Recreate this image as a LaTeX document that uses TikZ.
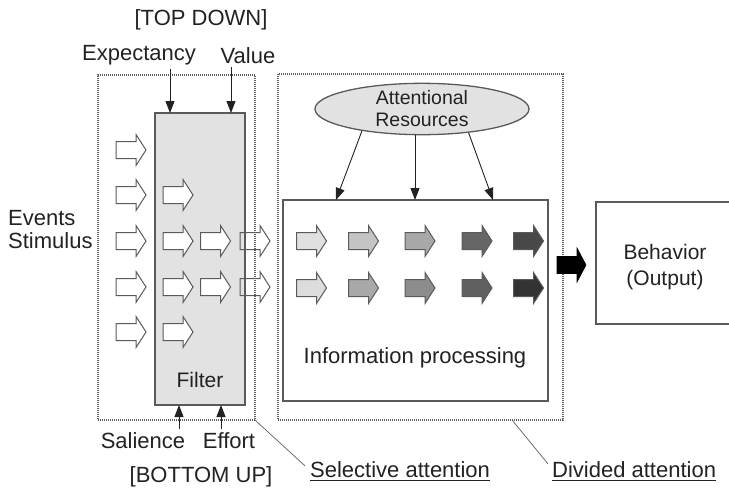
\documentclass[tikz,border=0pt]{standalone}
\usepackage{fontspec}
\setmainfont{Liberation Sans}
\usetikzlibrary{arrows.meta,shapes.geometric}
\definecolor{ink}{HTML}{222222}
\definecolor{edge}{HTML}{5A5A5A}
\definecolor{dots}{HTML}{5E5E5E}
\definecolor{panel}{HTML}{E2E2E2}
\definecolor{gA}{HTML}{E0E0E0}
\definecolor{gB}{HTML}{C4C4C4}
\definecolor{gC}{HTML}{A8A8A8}
\definecolor{gD}{HTML}{666666}
\definecolor{gE}{HTML}{484848}
\definecolor{hA}{HTML}{DCDCDC}
\definecolor{hB}{HTML}{A8A8A8}
\definecolor{hC}{HTML}{8C8C8C}
\definecolor{hD}{HTML}{606060}
\definecolor{hE}{HTML}{333333}
\begin{document}
\begin{tikzpicture}[x=1pt,y=-1pt,
  lbl/.style={font=\fontsize{22}{23}\selectfont, text=ink, inner sep=0pt, align=center},
  dotbox/.style={draw=dots, line width=1.1pt, dash pattern=on 1pt off 1pt, inner sep=0pt},
  solidbox/.style={draw=edge, line width=1.3pt, inner sep=0pt},
  arr/.style={draw=ink, line width=0.9pt, -{Triangle[length=12pt,width=9pt]}},
  leader/.style={draw=dots, line width=0.7pt},
  uline/.style={draw=ink, line width=1.1pt},
  blockarrow/.pic={\path[pic actions] (-15,-8.5) -- (5,-8.5) -- (5,-15.5) -- (15,0)
      -- (5,15.5) -- (5,8.5) -- (-15,8.5) -- cycle;},
  bigarrow/.pic={\path[pic actions] (-14.5,-8.5) -- (5.5,-8.5) -- (5.5,-17) -- (14.5,0)
      -- (5.5,17) -- (5.5,8.5) -- (-14.5,8.5) -- cycle;},
  hollow/.style={draw=edge, line width=1pt, fill=white},
  shaded/.style={draw=edge, line width=1pt, fill=#1},
]
\clip (0,0) rectangle (729,493);
\useasboundingbox (0,0) rectangle (729,493);

% frames for the two attention stages
\node[dotbox, minimum width=157pt, minimum height=345pt] (selbox) at (176.5,247.5) {};
\node[dotbox, minimum width=285pt, minimum height=346pt] (divbox) at (420.5,247) {};

% filter stage
\node[solidbox, fill=panel, minimum width=90pt, minimum height=292pt] (filter) at (200,259) {};
\node[lbl, anchor=base, font=\fontsize{21}{22}\selectfont] (filtertxt) at (200,387) {Filter};

% top-down and bottom-up influences
\node[lbl, anchor=base] (topdown) at (201,25) {[TOP DOWN]};
\node[lbl, anchor=base] (expect) at (139,60) {Expectancy};
\node[lbl, anchor=base] (value) at (248,63) {Value};
\node[lbl, anchor=base] (sal) at (143,448) {Salience};
\node[lbl, anchor=base] (effort) at (229,448) {Effort};
\node[lbl, anchor=base] (bottomup) at (201,482) {[BOTTOM UP]};

\coordinate (fE) at (170,113);
\coordinate (fV) at (231,113);
\coordinate (fS) at (179,405);
\coordinate (fF) at (221,405);
\draw[arr] (fE |- expect.south) ++(0,4) -- (fE);
\draw[arr] (fV |- value.south) ++(0,4) -- (fV);
\draw[arr] (fS |- sal.north) ++(0,-3) -- (fS);
\draw[arr] (fF |- effort.north) ++(0,-3) -- (fF);

% incoming events
\node[lbl, align=left, anchor=base west, font=\fontsize{22}{23}\selectfont] (events) at (8,248) {Events\\Stimulus};

\foreach \y in {150,195,241,287,332} \pic[hollow] at (131,\y) {blockarrow};
\foreach \y in {195,241,287,332} \pic[hollow] at (178,\y) {blockarrow};
\foreach \y in {241,287} \pic[hollow] at (215.5,\y) {blockarrow};
\foreach \y in {241,287} \pic[draw=edge, line width=1pt] at (255,\y) {blockarrow};

% resources and processing
\node[ellipse, draw=edge, line width=1.3pt, fill=panel, minimum width=214pt, minimum height=50pt,
      inner sep=0pt, align=center, font=\fontsize{19.5}{22}\selectfont, text=ink] (res) at (422,109)
      {Attentional\\Resources};
\node[solidbox, minimum width=265pt, minimum height=201pt] (info) at (415.5,300.5) {};
\node[lbl, anchor=base] (infotxt) at (415,363) {Information processing};

\coordinate (i1) at (336,200);
\coordinate (i2) at (415,200);
\coordinate (i3) at (493,200);
\draw[arr] (res.200) -- (i1);
\draw[arr] (res.south -| i2) -- (i2);
\draw[arr] (res.333) -- (i3);

\pic[shaded=gA] at (311.5,241) {blockarrow};
\pic[shaded=gB] at (363.5,241) {blockarrow};
\pic[shaded=gC] at (420,241) {blockarrow};
\pic[shaded=gD] at (477,241) {blockarrow};
\pic[shaded=gE] at (528.5,241) {blockarrow};
\pic[shaded=hA] at (311.5,288) {blockarrow};
\pic[shaded=hB] at (363.5,288) {blockarrow};
\pic[shaded=hC] at (420,288) {blockarrow};
\pic[shaded=hD] at (477,288) {blockarrow};
\pic[shaded=hE] at (528.5,288) {blockarrow};

% output
\pic[fill=black, draw=black, line width=0.6pt] at (571.5,265) {bigarrow};
\node[solidbox, minimum width=150pt, minimum height=122pt] (behav) at (671,263) {};
\node[lbl, font=\fontsize{21}{26}\selectfont] (behavtxt) at (665,267) {Behavior\\(Output)};

% captions with leader lines
\node[lbl, anchor=base west] (seltxt) at (310,477) {Selective attention};
\node[lbl, anchor=base west] (divtxt) at (552,477) {Divided attention};
\draw[uline] ([yshift=-3.5pt]seltxt.base west) -- ([yshift=-3.5pt]seltxt.base east);
\draw[uline] ([yshift=-3.5pt]divtxt.base west) -- ([yshift=-3.5pt]divtxt.base east);
\coordinate (divfoot) at (512,420);
\draw[leader] (selbox.south east) -- ([shift={(-5,5)}]seltxt.north west);
\draw[leader] (divfoot) -- ([shift={(-4,3)}]divtxt.north west);
\end{tikzpicture}
\end{document}
